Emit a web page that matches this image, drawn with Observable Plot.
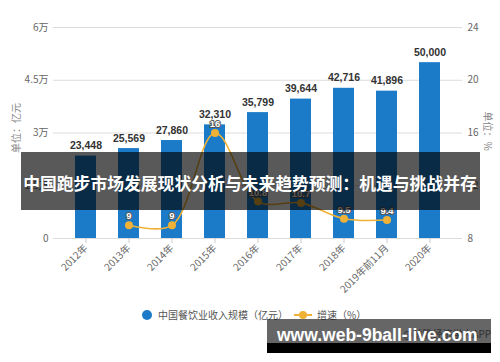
<!DOCTYPE html>
<html><head><meta charset="utf-8">
<script src="https://cdn.jsdelivr.net/npm/d3@7"></script>
<script src="https://cdn.jsdelivr.net/npm/@observablehq/plot@0.6"></script>
<style>
body{margin:0;background:#fff;}
#wrap{position:relative;width:500px;height:362px;overflow:hidden;font-family:"Noto Sans CJK SC","Liberation Sans",sans-serif;}
.abs{position:absolute;white-space:nowrap;}
</style></head><body>
<div id="wrap"></div>
<script>
const years = ["2012年","2013年","2014年","2015年","2016年","2017年","2018年","2019年前11月","2020年"];
const revenue = [23448,25569,27860,32310,35799,39644,42716,41896,50000];
const growthYears = ["2013年","2014年","2015年","2016年","2017年","2018年","2019年前11月"];
const growth = [9,9,16,10.8,10.7,9.5,9.4];
const leftTicks = [0,15000,30000,45000,60000];
const leftTickLabels = ["0","1.5万","3万","4.5万","6万"];
const rightTickLabels = ["8","12","16","20","24"];
const rightDomain = [8,24];
const leftMax = 60000;

const bars = years.map((y,i)=>({year:y, value:revenue[i]}));
const toLeft = v => (v - rightDomain[0])/(rightDomain[1]-rightDomain[0])*leftMax;
const line = growthYears.map((y,i)=>({year:y, g:growth[i], yy:toLeft(growth[i])}));

const blue = "#1b7bc8", gold = "#f0b236";

const chart = Plot.plot({
  width:500, height:362,
  marginTop:27, marginBottom:124, marginLeft:53, marginRight:38,
  style:{fontFamily:"'Noto Sans CJK SC','Liberation Sans',sans-serif", fontSize:"10px", color:"#666", background:"transparent"},
  x:{domain:years, paddingInner:0.52, paddingOuter:0.43, label:null},
  y:{domain:[0,leftMax], label:null},
  marks:[
    Plot.gridY(leftTicks,{stroke:"#dcdcdc", strokeOpacity:1}),
    Plot.axisY({ticks:leftTicks, tickSize:0, tickPadding:5, tickFormat:d=>leftTickLabels[leftTicks.indexOf(d)], label:null, fill:"#666"}),
    Plot.axisY({anchor:"right", ticks:leftTicks, tickSize:0, tickPadding:5, tickFormat:d=>rightTickLabels[leftTicks.indexOf(d)], label:null, fill:"#666"}),
    Plot.axisX({tickRotate:-45, tickSize:5, tickPadding:3, stroke:"#ccc", fill:"#666", label:null, fontSize:10}),
    Plot.barY(bars,{x:"year", y:"value", fill:blue}),
    Plot.text(bars,{x:"year", y:"value", text:d=>d3.format(",")(d.value), dy:-7, lineAnchor:"bottom", fill:"#333", fontWeight:"bold", fontSize:10.5, fontFamily:"'Liberation Sans',sans-serif"}),
    Plot.line(line,{x:"year", y:"yy", stroke:gold, strokeWidth:1.6, curve:"catmull-rom"}),
    Plot.dot(line,{x:"year", y:"yy", r:4, fill:gold, stroke:null}),
    Plot.text(line,{x:"year", y:"yy", text:d=>String(d.g), dy:-9, fill:"#fff", stroke:"#555", strokeWidth:2, paintOrder:"stroke", fontSize:9.5, fontWeight:"bold", fontFamily:"'Liberation Sans',sans-serif"})
  ]
});
const wrap = document.getElementById("wrap");
chart.style.position="absolute"; chart.style.left="0"; chart.style.top="0";
wrap.appendChild(chart);

function add(html, css){const d=document.createElement("div");d.className="abs";d.innerHTML=html;Object.assign(d.style,css);wrap.appendChild(d);return d;}
// axis titles
add("单位：亿元",{left:"15px",top:"128px",fontSize:"10px",color:"#888",transform:"translate(-50%,-50%) rotate(-90deg)"});
add("单位：%",{left:"488px",top:"131px",fontSize:"10px",color:"#888",transform:"translate(-50%,-50%) rotate(90deg)"});
// legend
add('<span style="display:inline-block;width:10px;height:10px;border-radius:50%;background:'+blue+';vertical-align:-1px;margin-right:6px"></span>中国餐饮业收入规模（亿元）',{left:"142px",top:"307px",fontSize:"10px",color:"#555"});
add('<span style="display:inline-block;position:relative;width:18px;height:10px;margin-right:5px;vertical-align:-1px"><span style="position:absolute;left:0;top:4px;width:18px;height:2px;background:'+gold+'"></span><span style="position:absolute;left:5px;top:1px;width:8px;height:8px;border-radius:50%;background:'+gold+'"></span></span>增速（%）',{left:"294px",top:"307px",fontSize:"10px",color:"#555"});
// source
add("@前瞻经济学人APP",{left:"403px",top:"326px",fontSize:"10px",color:"#777"});
// overlay banner
add("",{left:"21px",top:"152px",width:"459px",height:"58px",background:"rgba(0,0,0,0.65)"});
const title = add("中国跑步市场发展现状分析与未来趋势预测：机遇与挑战并存",{left:"250px",top:"184px",fontSize:"17px",color:"#fff",fontWeight:"bold",lineHeight:"1"});
const tw = title.getBoundingClientRect().width;
const fs = 17*454/tw;
title.style.fontSize = fs+"px";
const r = title.getBoundingClientRect();
title.style.left = (250 - r.width/2)+"px";
title.style.top = (183 - r.height/2)+"px";
// bottom url banner
add("",{left:"267px",top:"319px",width:"224px",height:"24px",background:"rgba(0,0,0,0.6)"});
add("",{left:"267px",top:"343px",width:"224px",height:"10px",background:"#000"});
add("www.web-9ball-live.com",{left:"277px",top:"325px",fontSize:"17.5px",lineHeight:"21px",fontWeight:"bold",color:"#fff",fontFamily:"'Liberation Sans',sans-serif"});
</script>
</body></html>
